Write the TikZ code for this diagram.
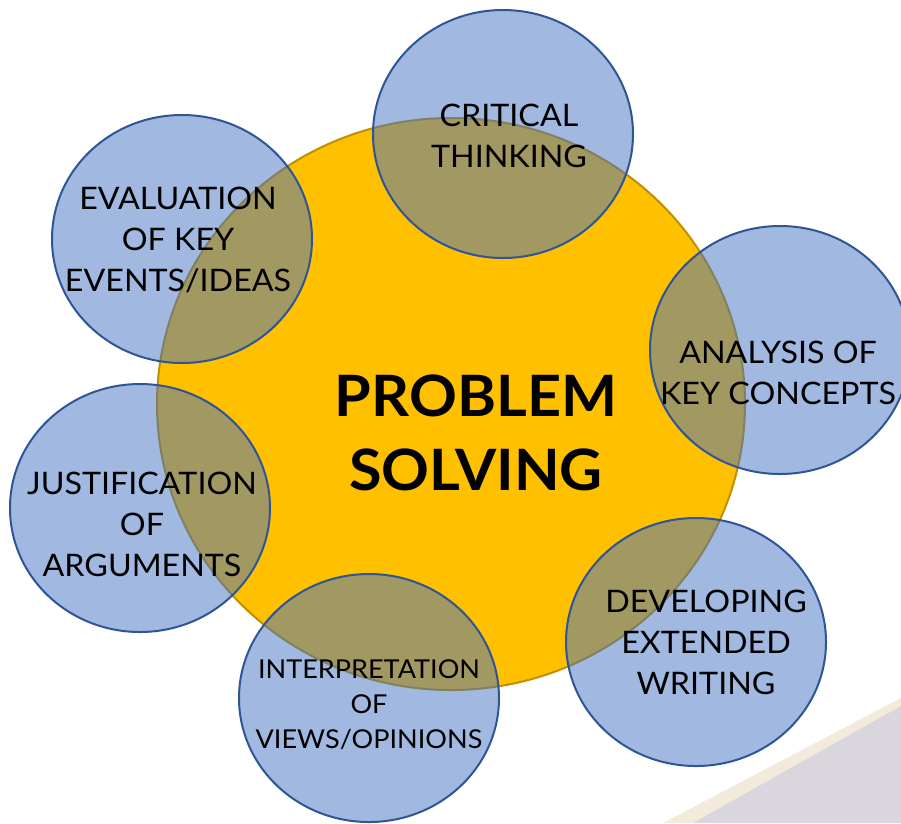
\documentclass[tikz,border=0pt]{standalone}
\usepackage{fontspec}
\setmainfont{Lato}[FakeStretch=1.04]
\usetikzlibrary{shapes.geometric}
\definecolor{gold}{HTML}{FFC000}
\definecolor{golddark}{HTML}{BF9000}
\definecolor{skill}{HTML}{4472C4}
\definecolor{skilldark}{HTML}{2F5597}
\definecolor{stripe}{HTML}{F3EADB}
\definecolor{panel}{HTML}{D9D7DD}
\tikzset{
  skillnode/.style={ellipse,draw=skilldark,line width=2pt,fill=skill,fill opacity=0.5,
    text opacity=1,minimum width=260pt,minimum height=248pt,align=center,
    font=\fontsize{31}{41}\selectfont},
  corenode/.style={ellipse,draw=golddark,line width=2pt,fill=gold,
    minimum width=588pt,minimum height=572pt,align=center,
    font=\fontsize{57}{74}\selectfont\bfseries}
}
\begin{document}
\begin{tikzpicture}[x=1pt,y=-1pt]
    \useasboundingbox (0,0) rectangle (901,823);
    \fill[white] (0,0) rectangle (901,823);
    % corner decoration
    \fill[stripe] (663,823)--(901,698)--(901,823)--cycle;
    \fill[panel] (693,823)--(901,706)--(901,823)--cycle;
    % centre
    \node[corenode] (problem) at (451,404) {};
    \node[font=\fontsize{57}{74}\selectfont\bfseries,align=center] (problemtext) at (476,433) {PROBLEM\\SOLVING};
    % skills round it
    \node[skillnode] (critical) at (503,134) {};
    \node[skillnode] (evaluation) at (182,239) {};
    \node[skillnode] (analysis) at (780,350) {};
    \node[skillnode] (justification) at (140,508) {};
    \node[skillnode] (interpretation) at (369,698) {};
    \node[skillnode] (developing) at (696,642) {};
    \node[font=\fontsize{31}{41}\selectfont,align=center] (criticaltext) at (509,136) {CRITICAL\\THINKING};
    \node[font=\fontsize{31}{41}\selectfont,align=center] (evaluationtext) at (178,240) {EVALUATION\\OF KEY\\EVENTS/IDEAS};
    \node[font=\fontsize{31}{41}\selectfont,align=center] (analysistext) at (778,373) {ANALYSIS OF\\KEY CONCEPTS};
    \node[font=\fontsize{31}{41}\selectfont,align=center] (justificationtext) at (142,524) {JUSTIFICATION\\OF\\ARGUMENTS};
    \node[font=\fontsize{26}{35}\selectfont,align=center] (interpretationtext) at (369,705) {INTERPRETATION\\OF\\VIEWS/OPINIONS};
    \node[font=\fontsize{31}{41}\selectfont,align=center] (developingtext) at (706,642) {DEVELOPING\\EXTENDED\\WRITING};
\end{tikzpicture}
\end{document}
